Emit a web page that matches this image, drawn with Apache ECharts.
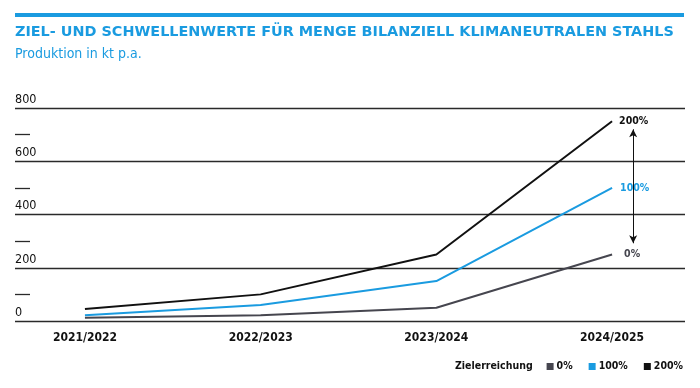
<!DOCTYPE html>
<html>
<head>
<meta charset="utf-8">
<script src="https://cdn.jsdelivr.net/npm/echarts@6/dist/echarts.min.js"></script>
<style>
html,body{margin:0;padding:0;background:#fff;}
#chart{width:700px;height:388px;}
</style>
</head>
<body>
<div id="chart"></div>
<script>
const categories = ['2021/2022', '2022/2023', '2023/2024', '2024/2025'];
const seriesNames = ['0%', '100%', '200%'];
const values0 = [12, 22, 50, 250];
const values100 = [22, 60, 150, 500];
const values200 = [45, 100, 250, 750];
const yTicks = [0, 200, 400, 600, 800];
const yMinorTicks = [100, 300, 500, 700];
const arrowRange = [720, 292];

const BLUE = '#1a9be0';
const GRAY = '#46464f';
const BLACK = '#111111';
const NARROW = "'DejaVu Sans Condensed', 'Roboto', sans-serif";

function pts(vals) { return vals.map((v, i) => [i, v]); }

const chart = echarts.init(document.getElementById('chart'), null, {renderer: 'canvas'});

const endLabel = (text, color, dist) => ({
  show: true,
  formatter: text,
  color: color,
  fontFamily: NARROW,
  fontWeight: 'bold',
  fontSize: 10.5,
  distance: dist
});

chart.setOption({
  animation: false,
  backgroundColor: '#fff',
  graphic: [
    {type: 'rect', left: 15, top: 13, shape: {width: 669, height: 4}, style: {fill: BLUE}},
    {type: 'text', left: 15, top: 25, style: {text: 'ZIEL- UND SCHWELLENWERTE FÜR MENGE BILANZIELL KLIMANEUTRALEN STAHLS', fill: BLUE, font: "bold 14.4px 'DejaVu Sans'"}},
    {type: 'text', left: 15, top: 47, style: {text: 'Produktion in kt p.a.', fill: BLUE, font: "14px " + NARROW}},
    {type: 'text', left: 455, top: 361, style: {text: 'Zielerreichung', fill: BLACK, font: "bold 10.5px " + NARROW}}
  ],
  legend: {
    data: seriesNames,
    right: 17,
    top: 361,
    padding: 0,
    icon: 'rect',
    itemWidth: 7,
    itemHeight: 7,
    itemGap: 16,
    itemStyle: {borderWidth: 0},
    textStyle: {fontFamily: NARROW, fontWeight: 'bold', fontSize: 10.5, color: BLACK, padding: [0, 0, 0, -2]}
  },
  grid: {left: 15, right: 15, top: 108, bottom: 67},
  xAxis: {
    type: 'value',
    min: -0.398,
    max: 3.415,
    axisLine: {show: false},
    axisTick: {show: false},
    splitLine: {show: false},
    axisLabel: {
      customValues: [0, 1, 2, 3],
      formatter: v => categories[Math.round(v)],
      fontFamily: NARROW, fontWeight: 'bold', fontSize: 12, color: BLACK, margin: 11
    }
  },
  yAxis: [
    {
      type: 'value',
      min: 0, max: 800, interval: 200,
      axisLine: {show: false, onZero: false},
      axisTick: {show: false},
      splitLine: {show: true, lineStyle: {color: '#2a2a2a', width: 1.3}},
      axisLabel: {
        inside: true,
        verticalAlign: 'bottom', padding: [0, 0, 2, 0], margin: 0,
        fontFamily: NARROW, fontSize: 12.5, color: BLACK
      }
    },
    {
      type: 'value', position: 'left',
      min: 0, max: 800,
      axisLine: {show: false, onZero: false},
      axisTick: {show: true, inside: true, length: 15, customValues: yMinorTicks, lineStyle: {color: '#2a2a2a', width: 1.3}},
      splitLine: {show: false},
      axisLabel: {show: false}
    }
  ],
  series: [
    {
      name: seriesNames[0], type: 'line', data: pts(values0), symbol: 'none',
      lineStyle: {color: GRAY, width: 2}, itemStyle: {color: GRAY},
      endLabel: endLabel('0%', GRAY, 12)
    },
    {
      name: seriesNames[1], type: 'line', data: pts(values100), symbol: 'none',
      lineStyle: {color: BLUE, width: 2}, itemStyle: {color: BLUE},
      endLabel: Object.assign(endLabel('100%', BLUE, 7), {backgroundColor: '#fff', padding: [3, 1]}),
      markLine: {
        silent: true, animation: false,
        symbol: ['arrow', 'arrow'], symbolSize: [6, 8],
        label: {show: false},
        lineStyle: {color: BLACK, width: 1, type: 'solid'},
        data: [[{coord: [3.12, arrowRange[0]]}, {coord: [3.12, arrowRange[1]]}]]
      }
    },
    {
      name: seriesNames[2], type: 'line', data: pts(values200), symbol: 'none',
      lineStyle: {color: BLACK, width: 2}, itemStyle: {color: BLACK},
      endLabel: endLabel('200%', BLACK, 7)
    }
  ]
});
</script>
</body>
</html>
